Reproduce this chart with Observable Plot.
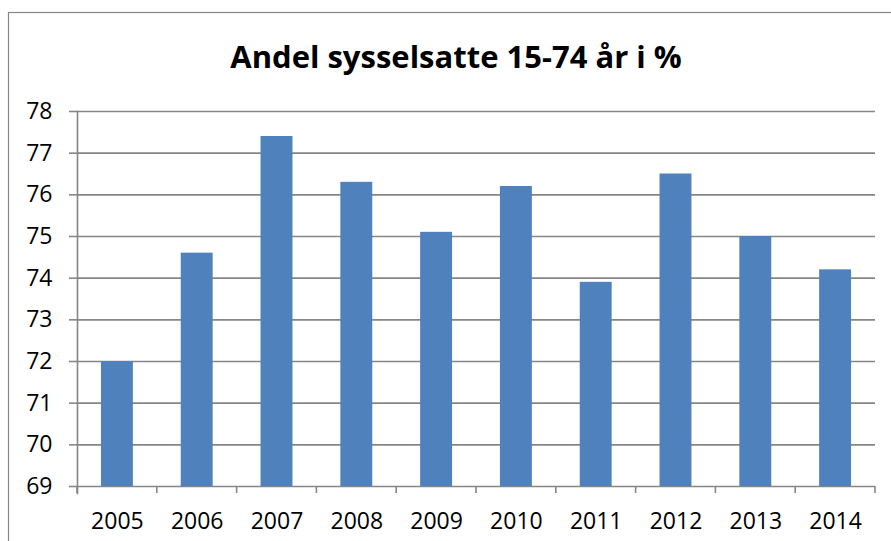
<!DOCTYPE html>
<html>
<head>
<meta charset="utf-8">
<script src="https://cdn.jsdelivr.net/npm/d3@7"></script>
<script src="https://cdn.jsdelivr.net/npm/@observablehq/plot@0.6"></script>
<style>
  html, body { margin: 0; padding: 0; background: #fff; }
  #chart { width: 891px; height: 541px; overflow: hidden; }
  svg { display: block; }
</style>
</head>
<body>
<div id="chart"></div>
<script>
const title = "Andel sysselsatte 15-74 år i %";
const years = ["2005","2006","2007","2008","2009","2010","2011","2012","2013","2014"];
const values = [72.0, 74.6, 77.4, 76.3, 75.1, 76.2, 73.9, 76.5, 75.0, 74.2];
const yTicks = [69, 70, 71, 72, 73, 74, 75, 76, 77, 78];

const data = years.map((year, i) => ({year, value: values[i]}));
const gridColor = "#868686";
const font = "'Open Sans', sans-serif";

const chart = Plot.plot({
  width: 891,
  height: 541,
  marginLeft: 77,
  marginRight: 16,
  marginTop: 111,
  marginBottom: 55,
  style: {fontFamily: font, fontSize: "23px", color: "#000", background: "#fff"},
  x: {domain: years, paddingInner: 0.6, paddingOuter: 0.3, round: false, label: null},
  y: {domain: [69, 78], label: null},
  marks: [
    Plot.ruleY(yTicks, {stroke: gridColor, strokeWidth: 1.6}),
    Plot.barY(data, {x: "year", y1: 69, y2: "value", fill: "#4F81BD"}),
    Plot.frame({anchor: "left", stroke: gridColor, strokeWidth: 1.6, insetBottom: -7}),
    Plot.axisY({ticks: yTicks, tickSize: 8, tickPadding: 17, fontSize: 23, stroke: gridColor, strokeWidth: 1.6, fill: "#000", label: null, tickFormat: d => String(d)}),
    Plot.axisX({tickSize: 0, tickPadding: 26, fontSize: 23, fill: "#000", label: null})
  ]
});

document.getElementById("chart").appendChild(chart);

const svg = d3.select(chart);
const xs = chart.scale("x");
const ys = chart.scale("y");
const gap = (xs.step - xs.bandwidth) / 2;
const bounds = years.map(y => xs.apply(y) - gap);
bounds.push(xs.apply(years[years.length - 1]) + xs.bandwidth + gap);
const yBase = ys.apply(69);

svg.append("g")
  .attr("stroke", gridColor)
  .attr("stroke-width", 1.6)
  .selectAll("line")
  .data(bounds)
  .join("line")
  .attr("x1", d => d).attr("x2", d => d)
  .attr("y1", yBase).attr("y2", yBase + 7);

svg.append("rect")
  .attr("x", 8.5).attr("y", 12.5)
  .attr("width", 1000).attr("height", 1000)
  .attr("fill", "none")
  .attr("stroke", gridColor)
  .attr("stroke-width", 1.2);

svg.append("text")
  .attr("x", 456).attr("y", 68)
  .attr("text-anchor", "middle")
  .attr("font-family", font)
  .attr("font-weight", "bold")
  .attr("font-size", 31)
  .attr("fill", "#000")
  .text(title);
</script>
</body>
</html>
